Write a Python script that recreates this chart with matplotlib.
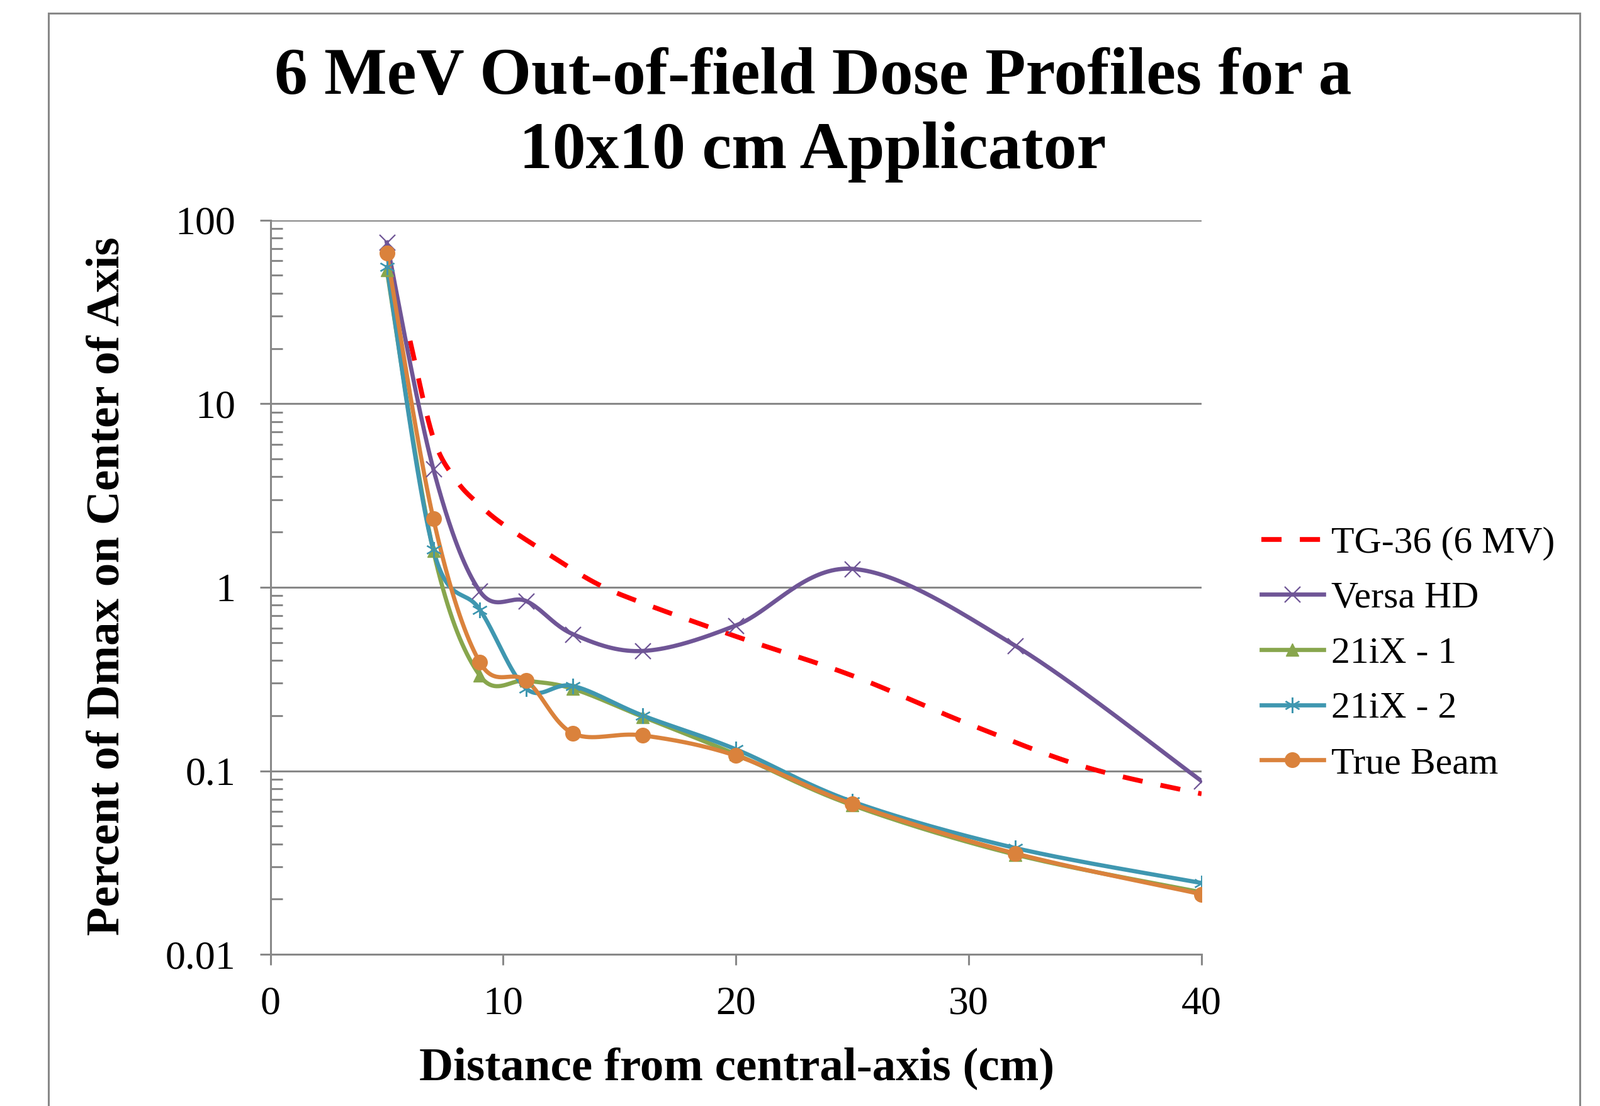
import numpy as np
import matplotlib.pyplot as plt
from matplotlib.patches import Rectangle

plt.rcParams['font.family'] = ['Liberation Serif', 'DejaVu Serif']

# distances (cm) and percent of Dmax
dist = [5, 7, 9, 11, 13, 16, 20, 25, 32, 40]
versa_hd = [75.5, 4.4, 0.95, 0.84, 0.555, 0.45, 0.62, 1.26, 0.48, 0.088]
ix21_1 = [53.5, 1.58, 0.33, 0.31, 0.28, 0.197, 0.123, 0.065, 0.035, 0.0218]
ix21_2 = [55.5, 1.6, 0.755, 0.28, 0.29, 0.2, 0.131, 0.068, 0.038, 0.0245]
true_beam = [66.4, 2.36, 0.39, 0.31, 0.16, 0.156, 0.121, 0.066, 0.0355, 0.0213]

tg36_dist = [6, 7, 8, 9, 10, 12, 14, 16, 20, 25, 30, 35, 40]
tg36 = [22, 6.5, 3.8, 2.8, 2.2, 1.5, 1.05, 0.82, 0.54, 0.33, 0.18, 0.105, 0.075]

x_ticks = [0, 10, 20, 30, 40]
y_ticks = [0.01, 0.1, 1, 10, 100]
y_ticklabels = ['0.01', '0.1', '1', '10', '100']

GRID = '#888888'
K = 7.9  # screen aspect of one decade vs one cm, used for the smoothing


def smooth(xs, ys, n=40):
    # Catmull-Rom through points (like Excel's smoothed line), done in x / log(y)
    pts = np.column_stack([np.asarray(xs, float), np.log10(ys) * K])
    P = np.vstack([pts[0], pts, pts[-1]])
    t = np.linspace(0, 1, n)[:, None]
    segs = []
    for i in range(1, len(P) - 2):
        p0, p1, p2, p3 = P[i - 1], P[i], P[i + 1], P[i + 2]
        segs.append(0.5 * (2 * p1 + (p2 - p0) * t + (2 * p0 - 5 * p1 + 4 * p2 - p3) * t ** 2
                           + (3 * p1 - p0 - 3 * p2 + p3) * t ** 3))
    c = np.vstack(segs)
    return c[:, 0], 10 ** (c[:, 1] / K)


fig = plt.figure(figsize=(25.42, 17.57), dpi=100)
ax = fig.add_axes([0.169, 0.137, 0.582, 0.664])

# outer chart border
fig.patches.append(Rectangle((0.0303, -0.05), 0.957, 1.038, transform=fig.transFigure,
                             fill=False, edgecolor=GRID, lw=2.2))

series = [
    ('Versa HD', versa_hd, '#6F5596', 'x', 18, 1.6),
    ('21iX - 1', ix21_1, '#88A64D', '^', 15, 1.0),
    ('21iX - 2', ix21_2, '#3F97B0', (6, 2, 0), 18, 1.6),
    ('True Beam', true_beam, '#DA823C', 'o', 17, 1.0),
]

sx, sy = smooth(tg36_dist, tg36)
ax.plot(sx, sy, color='#FF0000', lw=5.5, dashes=(4.2, 3.8), label='TG-36 (6 MV)', zorder=3)

for name, vals, col, mk, ms, mew in series:
    sx, sy = smooth(dist, vals)
    ax.plot(sx, sy, color=col, lw=4.8, zorder=4)
    ax.plot(dist, vals, linestyle='none', marker=mk, ms=ms, color=col, mec=col, mew=mew, zorder=5)
    ax.plot([], [], color=col, lw=4.8, marker=mk, ms=ms, mec=col, mew=mew, label=name)

ax.set_yscale('log')
ax.set_xlim(0, 40)
ax.set_ylim(0.01, 100)
ax.set_xticks(x_ticks)
ax.set_xticklabels([str(v) for v in x_ticks])
ax.set_yticks(y_ticks)
ax.set_yticklabels(y_ticklabels)
ax.yaxis.grid(True, which='major', color=GRID, lw=2.2)
ax.set_axisbelow(True)
for s in ['top', 'right']:
    ax.spines[s].set_visible(False)
for s in ['left', 'bottom']:
    ax.spines[s].set_color(GRID)
    ax.spines[s].set_linewidth(2.2)
ax.tick_params(axis='both', which='major', length=12, width=2.2, color=GRID,
               labelsize=46, direction='out')
ax.tick_params(axis='x', pad=24)
ax.tick_params(axis='y', pad=28)
ax.tick_params(axis='y', which='minor', length=14, width=2.2, color=GRID, direction='in',
               labelleft=False)

fig.text(0.508, 0.915, '6 MeV Out-of-field Dose Profiles for a', ha='center', va='baseline',
         fontsize=76, fontweight='bold')
fig.text(0.508, 0.848, '10x10 cm Applicator', ha='center', va='baseline',
         fontsize=76, fontweight='bold')
fig.text(0.4606, 0.024, 'Distance from central-axis (cm)', ha='center', va='baseline',
         fontsize=54, fontweight='bold')
fig.text(0.067, 0.47, 'Percent of Dmax on Center of Axis', ha='center', va='center',
         rotation=90, fontsize=54, fontweight='bold')

leg = fig.legend(loc='center left', bbox_to_anchor=(0.779, 0.409), frameon=False, fontsize=43,
                 handlelength=1.65, handletextpad=0.2, labelspacing=0.55, borderaxespad=0)

fig.savefig('out.png', dpi=100)
